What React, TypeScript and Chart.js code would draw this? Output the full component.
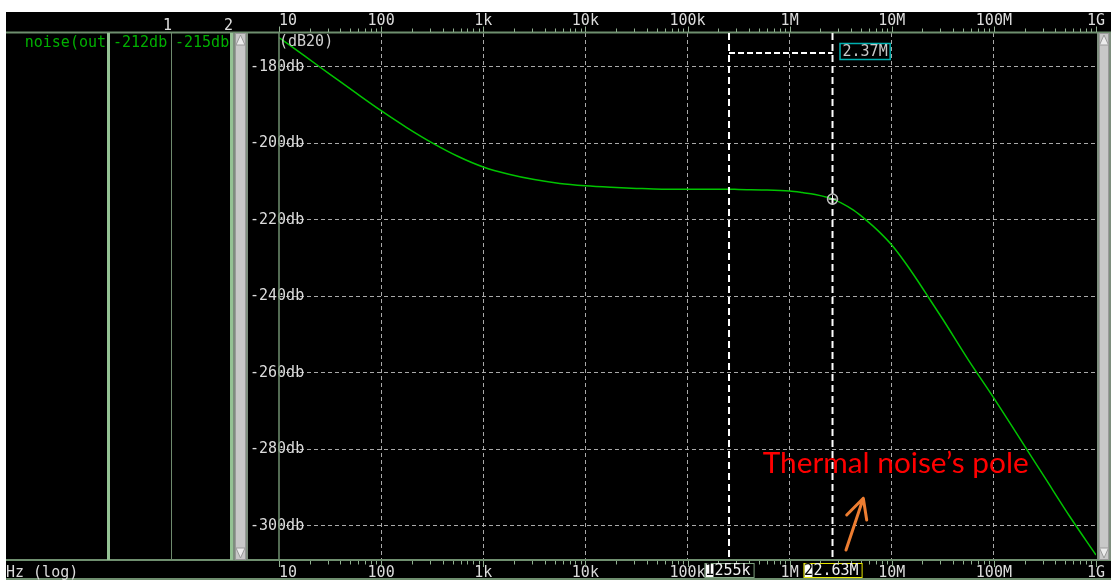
import { useEffect, useRef } from 'react';
import { Chart, registerables } from 'chart.js';

Chart.register(...registerables);

// Output-referred noise spectrum of the amplifier, dB20 vs frequency
const freqHz = [
  10, 17.8, 31.6, 56.2, 100, 178, 316, 562, 1e3, 1.78e3, 3.16e3, 5.62e3,
  1e4, 1.78e4, 3.16e4, 5.62e4, 1e5, 1.78e5, 2.55e5, 3.16e5, 5.62e5,
  1e6, 1.33e6, 1.78e6, 2.37e6, 2.63e6, 3.16e6, 4.22e6, 5.62e6, 7.5e6,
  1e7, 1.33e7, 1.78e7, 2.37e7, 3.16e7, 5.62e7,
  1e8, 1.78e8, 3.16e8, 5.62e8, 1e9,
];
const noiseDb = [
  -172.4, -177.2, -182.0, -186.8, -191.5, -195.9, -199.9, -203.4, -206.2, -208.1, -209.5, -210.5,
  -211.1, -211.5, -211.8, -212.0, -212.0, -212.0, -212.0, -212.1, -212.2,
  -212.5, -212.9, -213.4, -214.2, -214.6, -215.5, -217.5, -220.1, -223.1,
  -226.6, -230.9, -235.8, -240.9, -246.0, -256.6,
  -266.6, -277.0, -287.4, -297.8, -307.6,
];

// Axes
const xDecades = [10, 100, 1e3, 1e4, 1e5, 1e6, 1e7, 1e8, 1e9];
const xTickLabels = ['10', '100', '1k', '10k', '100k', '1M', '10M', '100M', '1G'];
const yTickValues = [-300, -280, -260, -240, -220, -200, -180];
const yMin = -308.9;
const yMax = -171.2;

// Cursors and captions
const cursorHz = [255e3, 2.63e6];
const traceName = 'noise(out';
const yUnit = '(dB20)';
const xUnit = 'Hz (log)';
const noteText = 'Thermal noise\u2019s pole';

const MONO = '"DejaVu Sans Mono", monospace';
const CHAR_W = 9.03;
const GRID = 'rgba(178,178,178,0.95)';
const FRAME = '#6f8f6f';
const PANE_LINE = '#94c294';
const LABEL = '#dcdcdc';
const TRACE = '#00c400';
const TRACE_TEXT = '#00b000';

// minor + major tick positions along the log axis
const xTickValues: number[] = [];
xDecades.forEach((d, i) => {
  if (i === xDecades.length - 1) {
    xTickValues.push(d);
    return;
  }
  for (let k = 1; k <= 9; k++) xTickValues.push(k * d);
});

const isDecade = (v: number) => xDecades.indexOf(v) >= 0;

function formatHz(v: number): string {
  const units: [number, string][] = [[1e9, 'G'], [1e6, 'M'], [1e3, 'k'], [1, '']];
  for (const [s, u] of units) {
    if (v >= s) {
      const n = v / s;
      const digits = n >= 100 ? 0 : n >= 10 ? 1 : 2;
      const f = Math.pow(10, digits);
      const t = Math.floor(n * f + 1e-6) / f;
      return t.toFixed(digits) + u;
    }
  }
  return String(v);
}

function valueAt(f: number): number {
  const i = freqHz.indexOf(f);
  return noiseDb[i];
}

function drawScrollbar(ctx: CanvasRenderingContext2D, x: number, top: number, w: number, h: number) {
  ctx.fillStyle = '#7e8e7e';
  ctx.fillRect(x, top, w, h);
  ctx.fillStyle = '#c8c8c8';
  ctx.fillRect(x + 2, top, w - 4, h);
  ctx.strokeStyle = '#9a9a9a';
  ctx.lineWidth = 1;
  ctx.strokeRect(x + 2.5, top + 0.5, w - 5, h - 1);
  const cx = x + w / 2;
  ctx.fillStyle = '#ececec';
  ctx.beginPath();
  ctx.moveTo(cx, top + 2);
  ctx.lineTo(cx - 4.5, top + 12);
  ctx.lineTo(cx + 4.5, top + 12);
  ctx.closePath();
  ctx.fill();
  ctx.stroke();
  ctx.beginPath();
  ctx.moveTo(cx, top + h - 2);
  ctx.lineTo(cx - 4.5, top + h - 12);
  ctx.lineTo(cx + 4.5, top + h - 12);
  ctx.closePath();
  ctx.fill();
  ctx.stroke();
}

const panelPlugin = {
  id: 'waveformPanel',
  beforeDraw(chart: Chart) {
    const { ctx, width, height } = chart;
    ctx.save();
    ctx.fillStyle = '#ffffff';
    ctx.fillRect(0, 0, width, height);
    ctx.fillStyle = '#000000';
    ctx.fillRect(6, 12, width - 6, 568);
    ctx.restore();
  },
  afterDraw(chart: Chart) {
    const { ctx, width, chartArea: ca } = chart;
    const xs = chart.scales.x;
    const ys = chart.scales.y;
    ctx.save();

    // band separators
    ctx.strokeStyle = FRAME;
    ctx.lineWidth = 2;
    [ca.top - 0.5, ca.bottom, 579].forEach((y) => {
      ctx.beginPath();
      ctx.moveTo(6, y);
      ctx.lineTo(width, y);
      ctx.stroke();
    });
    ctx.lineWidth = 1.5;
    ctx.beginPath();
    ctx.moveTo(ca.left, ca.top);
    ctx.lineTo(ca.left, ca.bottom);
    ctx.stroke();

    // axis tick marks in the top and bottom bands
    ctx.strokeStyle = '#8fae8f';
    ctx.lineWidth = 1;
    xTickValues.forEach((v) => {
      const px = Math.round(xs.getPixelForValue(v)) + 0.5;
      const major = isDecade(v);
      ctx.beginPath();
      ctx.moveTo(px, major ? ca.top - 6.5 : ca.top - 4.5);
      ctx.lineTo(px, ca.top - 1);
      ctx.moveTo(px, ca.bottom + 1);
      ctx.lineTo(px, major ? ca.bottom + 7 : ca.bottom + 4.5);
      ctx.stroke();
    });

    // left value pane
    ctx.fillStyle = PANE_LINE;
    ctx.fillRect(107, ca.top, 3, ca.bottom - ca.top);
    ctx.fillRect(230, ca.top, 3, ca.bottom - ca.top);
    ctx.fillStyle = '#6e8a6e';
    ctx.fillRect(171, ca.top, 1, ca.bottom - ca.top);
    drawScrollbar(ctx, 233, ca.top, 15, ca.bottom - ca.top);
    drawScrollbar(ctx, ca.right + 1, ca.top, width - ca.right - 1, ca.bottom - ca.top);

    ctx.font = `15px ${MONO}`;
    ctx.textBaseline = 'middle';
    ctx.fillStyle = '#e0e0e0';
    ctx.textAlign = 'right';
    ctx.fillText('1', 172, 26.5);
    ctx.fillText('2', 233, 26.5);
    ctx.fillStyle = TRACE_TEXT;
    ctx.fillText(traceName, 106, 43.5);
    ctx.textAlign = 'left';
    ctx.fillText(`${valueAt(cursorHz[0]).toFixed(0)}db`, 113, 43.5);
    ctx.fillText(`${valueAt(cursorHz[1]).toFixed(0)}db`, 175, 43.5);
    ctx.fillStyle = '#d0d0d0';
    ctx.fillText(yUnit, 279, 42.5);
    ctx.fillStyle = LABEL;
    ctx.fillText(xUnit, 6, 573);

    // cursors
    const cx = cursorHz.map((f) => xs.getPixelForValue(f));
    ctx.strokeStyle = '#ffffff';
    ctx.lineWidth = 2;
    ctx.setLineDash([7, 4]);
    cx.forEach((x) => {
      ctx.beginPath();
      ctx.moveTo(x, ca.top);
      ctx.lineTo(x, ca.bottom);
      ctx.stroke();
    });
    ctx.setLineDash([6, 3]);
    ctx.beginPath();
    ctx.moveTo(cx[0], ca.top + 20);
    ctx.lineTo(cx[1], ca.top + 20);
    ctx.stroke();
    ctx.setLineDash([]);

    // delta readout
    const delta = formatHz(cursorHz[1] - cursorHz[0]);
    const dw = delta.length * CHAR_W + 5;
    ctx.fillStyle = '#000000';
    ctx.fillRect(cx[1] + 7, ca.top + 10.5, dw, 16);
    ctx.strokeStyle = '#00b0b0';
    ctx.lineWidth = 1.5;
    ctx.strokeRect(cx[1] + 7.5, ca.top + 10.5, dw, 16);
    ctx.fillStyle = '#c8c8c8';
    ctx.fillText(delta, cx[1] + 10, ca.top + 19.5);

    // crosshair marker on the trace at cursor 2
    const my = ys.getPixelForValue(valueAt(cursorHz[1]));
    ctx.strokeStyle = '#bdbdbd';
    ctx.lineWidth = 1.5;
    ctx.beginPath();
    ctx.arc(cx[1], my, 5, 0, Math.PI * 2);
    ctx.stroke();
    ctx.strokeStyle = '#ffffff';
    ctx.lineWidth = 1;
    ctx.beginPath();
    ctx.moveTo(cx[1] - 4, my);
    ctx.lineTo(cx[1] + 4, my);
    ctx.moveTo(cx[1], my - 4);
    ctx.lineTo(cx[1], my + 4);
    ctx.stroke();

    // cursor frequency boxes on the bottom band
    const boxColors = ['#7fa07f', '#e6e600'];
    cursorHz.forEach((f, i) => {
      const txt = formatHz(f);
      const w = (txt.length + 1) * CHAR_W + 4;
      const left = cx[i] - w / 2 + 0.5;
      const top = ca.bottom + 3.5;
      ctx.fillStyle = '#000000';
      ctx.fillRect(left, top, w, 14);
      ctx.fillStyle = '#ffffff';
      ctx.fillRect(left + 0.5, top + 0.5, CHAR_W - 1, 13);
      ctx.strokeStyle = boxColors[i];
      ctx.lineWidth = 1;
      ctx.strokeRect(left, top, w, 14);
      ctx.textAlign = 'left';
      ctx.fillStyle = '#000000';
      ctx.fillText(String(i + 1), left, top + 7.5);
      ctx.fillStyle = '#f0f0f0';
      ctx.fillText(txt, left + CHAR_W + 0.5, top + 7.5);
    });

    // annotation: condensed humanist sans, 266px wide
    const noteFont = '28px Lato, "Open Sans", sans-serif';
    ctx.font = noteFont;
    const squeeze = 266 / ctx.measureText(noteText).width;
    ctx.textBaseline = 'alphabetic';
    ctx.fillStyle = '#ff0000';
    ctx.save();
    ctx.translate(ca.left + 483.7, ca.top + 439.7);
    ctx.scale(squeeze, 1);
    ctx.fillText(noteText, 0, 0);
    ctx.restore();

    ctx.strokeStyle = '#ed7d31';
    ctx.lineWidth = 3;
    ctx.lineCap = 'round';
    ctx.lineJoin = 'round';
    const tipX = ca.left + 584.3;
    const tipY = ca.top + 465.3;
    ctx.beginPath();
    ctx.moveTo(ca.left + 567, ca.top + 517);
    ctx.lineTo(tipX, tipY);
    ctx.moveTo(ca.left + 567.7, ca.top + 482);
    ctx.lineTo(tipX, tipY);
    ctx.lineTo(ca.left + 587.7, ca.top + 487);
    ctx.stroke();

    ctx.restore();
  },
};

export default function App() {
  const ref = useRef<HTMLCanvasElement>(null);

  useEffect(() => {
    document.body.style.margin = '0';
    const canvas = ref.current;
    if (!canvas) return;

    const axisFont = { family: MONO, size: 15 };
    const xTickCallback = (value: number | string) => {
      const i = xDecades.indexOf(Number(value));
      if (i < 0) return '';
      return i === 0 ? xTickLabels[i].padStart(4, ' ') : xTickLabels[i];
    };
    const setXTicks = (scale: any) => {
      scale.ticks = xTickValues.map((v) => ({ value: v }));
    };

    const chart = new Chart(canvas, {
      type: 'line',
      data: {
        datasets: [
          {
            data: freqHz.map((f, i) => ({ x: f, y: noiseDb[i] })),
            borderColor: TRACE,
            borderWidth: 1.5,
            pointRadius: 0,
            cubicInterpolationMode: 'monotone',
            xAxisID: 'x',
            yAxisID: 'y',
          },
        ],
      },
      options: {
        responsive: false,
        animation: false,
        devicePixelRatio: 1,
        events: [],
        layout: { padding: { left: 279, top: 12, right: 15, bottom: 0 } },
        plugins: {
          legend: { display: false },
          tooltip: { enabled: false },
        },
        scales: {
          x: {
            type: 'logarithmic',
            position: 'bottom',
            min: 10,
            max: 1e9,
            afterBuildTicks: setXTicks,
            afterFit: (s: any) => {
              s.height = 21;
            },
            grid: {
              drawTicks: false,
              lineWidth: 1,
              color: (c: any) =>
                c.tick && isDecade(c.tick.value) && c.tick.value !== 10 && c.tick.value !== 1e9
                  ? GRID
                  : 'rgba(0,0,0,0)',
            },
            border: { display: false, dash: [4, 3] },
            ticks: {
              autoSkip: false,
              maxRotation: 0,
              minRotation: 0,
              padding: 4,
              color: LABEL,
              font: axisFont,
              callback: xTickCallback,
            },
          },
          x2: {
            type: 'logarithmic',
            position: 'top',
            min: 10,
            max: 1e9,
            afterBuildTicks: setXTicks,
            afterFit: (s: any) => {
              s.height = 21;
            },
            grid: { display: false, drawTicks: false },
            border: { display: false },
            ticks: {
              autoSkip: false,
              maxRotation: 0,
              minRotation: 0,
              padding: 3,
              color: LABEL,
              font: axisFont,
              callback: xTickCallback,
            },
          },
          y: {
            type: 'linear',
            position: 'left',
            min: yMin,
            max: yMax,
            afterBuildTicks: (scale: any) => {
              scale.ticks = yTickValues.map((v) => ({ value: v }));
            },
            afterFit: (s: any) => {
              s.width = 0;
            },
            grid: { drawTicks: false, lineWidth: 1, color: GRID },
            border: { display: false, dash: [4, 3] },
            ticks: {
              mirror: true,
              padding: -29,
              color: LABEL,
              font: axisFont,
              callback: (v: number | string) => `${v}db`,
            },
          },
        },
      },
      plugins: [panelPlugin],
    } as any);

    return () => chart.destroy();
  }, []);

  return (
    <canvas
      ref={ref}
      width={1111}
      height={581}
      style={{ display: 'block', width: 1111, height: 581 }}
    />
  );
}
